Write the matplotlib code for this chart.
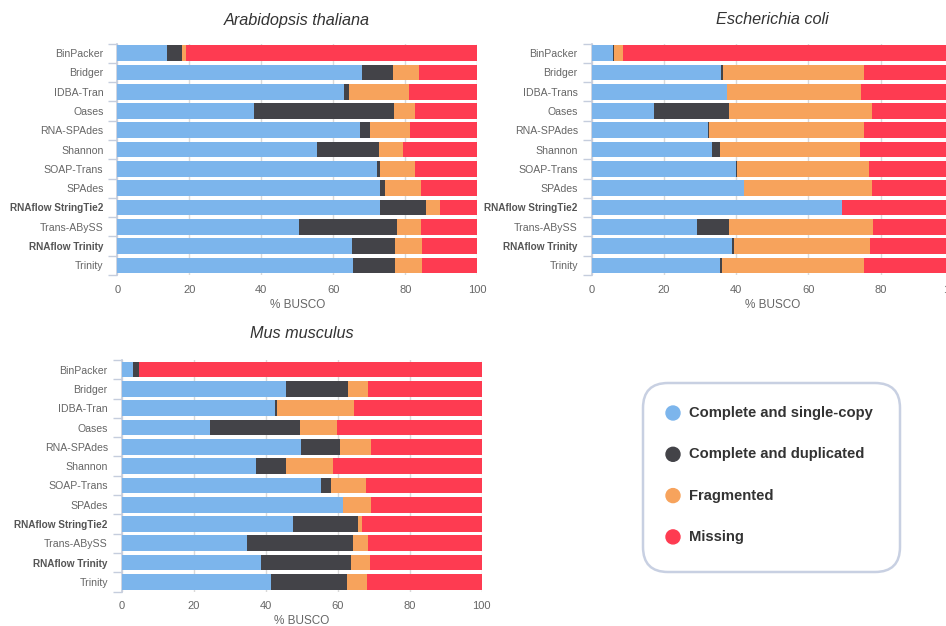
import matplotlib.pyplot as plt
import numpy as np
from matplotlib.patches import FancyBboxPatch, Ellipse

plt.rcParams["font.family"] = ["Liberation Sans", "DejaVu Sans"]

W, H = 946, 626

BLUE   = "#7cb5ec"
DARK   = "#434348"
ORANGE = "#f7a35c"
RED    = "#fe3b51"

series_names  = ["Complete and single-copy", "Complete and duplicated", "Fragmented", "Missing"]
series_colors = [BLUE, DARK, ORANGE, RED]

assemblers = ["BinPacker", "Bridger", "IDBA-Tran", "Oases", "RNA-SPAdes", "Shannon",
              "SOAP-Trans", "SPAdes", "RNAflow StringTie2", "Trans-ABySS",
              "RNAflow Trinity", "Trinity"]
assemblers_ecoli = ["BinPacker", "Bridger", "IDBA-Trans", "Oases", "RNA-SPAdes", "Shannon",
                    "SOAP-Trans", "SPAdes", "RNAflow StringTie2", "Trans-ABySS",
                    "RNAflow Trinity", "Trinity"]
bold_labels = ["RNAflow StringTie2", "RNAflow Trinity"]

# % BUSCO per assembler: single-copy, duplicated, fragmented, missing
ath_single = [13.8, 67.9, 63.0, 37.9, 67.3, 55.6, 72.1, 73.0, 73.0, 50.5, 65.3, 65.6]
ath_dup    = [4.2, 8.6, 1.4, 38.9, 2.8, 17.1, 1.0, 1.4, 12.7, 27.1, 11.9, 11.6]
ath_frag   = [1.0, 7.4, 16.7, 5.9, 11.3, 6.7, 9.6, 9.9, 3.9, 6.7, 7.5, 7.5]
ath_miss   = [81.0, 16.1, 18.9, 17.3, 18.6, 20.6, 17.3, 15.7, 10.4, 15.7, 15.3, 15.3]

eco_single = [6.0, 35.9, 37.6, 17.2, 32.2, 33.2, 40.1, 42.1, 69.3, 29.2, 39.0, 35.5]
eco_dup    = [0.2, 0.5, 0.0, 20.9, 0.2, 2.3, 0.1, 0.0, 0.1, 8.7, 0.4, 0.6]
eco_frag   = [2.6, 39.0, 37.0, 39.6, 43.0, 38.8, 36.7, 35.6, 0.0, 39.9, 37.7, 39.3]
eco_miss   = [91.2, 24.6, 25.4, 22.3, 24.6, 25.7, 23.1, 22.3, 30.6, 22.2, 22.9, 24.6]

mmu_single = [3.2, 45.6, 42.7, 24.4, 49.8, 37.3, 55.4, 61.4, 47.5, 34.7, 38.6, 41.4]
mmu_dup    = [1.5, 17.3, 0.3, 25.0, 10.8, 8.2, 2.6, 0.0, 18.1, 29.5, 25.2, 21.3]
mmu_frag   = [0.0, 5.6, 21.4, 10.4, 8.7, 13.3, 9.8, 7.9, 1.1, 4.3, 5.2, 5.4]
mmu_miss   = [95.3, 31.5, 35.6, 40.2, 30.7, 41.2, 32.2, 30.7, 33.3, 31.5, 31.0, 31.9]

AXIS_COL = "#c5cddd"
GRID_COL = "#d9d9d9"
TEXT_COL = "#666666"


def px_axes(fig, x0, y0, x1, y1):
    # axes placed by pixel box (top-left origin)
    return fig.add_axes([x0 / W, 1 - y1 / H, (x1 - x0) / W, (y1 - y0) / H])


def busco_panel(ax, labels, parts):
    n = len(labels)
    y = np.arange(n)
    left = np.zeros(n)
    for vals, col in zip(parts, series_colors):
        ax.barh(y, vals, left=left, height=0.81, color=col, zorder=3, linewidth=0)
        left += np.array(vals)
    ax.set_xlim(0, 100)
    ax.set_ylim(n - 0.5, -0.5)
    ax.set_xticks([0, 20, 40, 60, 80, 100])
    ax.set_yticks(y)
    ax.set_yticklabels(labels)
    ax.set_yticks(np.arange(n + 1) - 0.5, minor=True)
    ax.tick_params(axis="y", which="major", length=0, pad=10, labelsize=7.6, labelcolor=TEXT_COL)
    ax.tick_params(axis="y", which="minor", length=6.5, width=1, color=AXIS_COL)
    ax.tick_params(axis="x", length=0, pad=7, labelsize=8, labelcolor=TEXT_COL)
    for t in ax.get_yticklabels():
        if t.get_text() in bold_labels:
            t.set_fontweight("bold")
            t.set_fontsize(7.2)
            t.set_color("#555555")
    ax.xaxis.grid(True, color=GRID_COL, linewidth=1, zorder=0)
    for s in ["top", "right", "bottom"]:
        ax.spines[s].set_visible(False)
    ax.spines["left"].set_color(AXIS_COL)
    ax.spines["left"].set_linewidth(1.2)
    ax.set_xlabel("% BUSCO", fontsize=8.5, color=TEXT_COL, labelpad=3)


fig = plt.figure(figsize=(W / 100, H / 100), dpi=100)

ax1 = px_axes(fig, 117.3, 43.5, 477.3, 275)
busco_panel(ax1, assemblers, [ath_single, ath_dup, ath_frag, ath_miss])

ax2 = px_axes(fig, 591.7, 43.5, 952.7, 275)
busco_panel(ax2, assemblers_ecoli, [eco_single, eco_dup, eco_frag, eco_miss])

ax3 = px_axes(fig, 121.7, 360, 481.7, 591.5)
busco_panel(ax3, assemblers, [mmu_single, mmu_dup, mmu_frag, mmu_miss])

# titles
for x, y, name in [(297, 20, "Arabidopsis thaliana"), (772, 20, "Escherichia coli"),
                   (302, 333, "Mus musculus")]:
    fig.text(x / W, 1 - y / H, name, ha="center", va="center", fontsize=11.7,
             style="italic", color="#333333")

# legend panel drawn in pixel space
lg = fig.add_axes([0, 0, 1, 1], zorder=5)
lg.set_xlim(0, W)
lg.set_ylim(H, 0)
lg.axis("off")
lg.patch.set_alpha(0)
lg.add_patch(FancyBboxPatch((643 + 25, 383 + 25), 257 - 50, 189 - 50,
                            boxstyle="round,pad=25", facecolor="white",
                            edgecolor="#c8d0e2", linewidth=1.8))
for i, (name, col) in enumerate(zip(series_names, series_colors)):
    yy = 413 + i * 41.3
    lg.add_patch(Ellipse((673, yy), 14, 14, color=col))
    lg.text(689, yy, name, va="center", ha="left", fontsize=10.6, fontweight="bold",
            color="#333333")

fig.savefig("out.png", dpi=100)
